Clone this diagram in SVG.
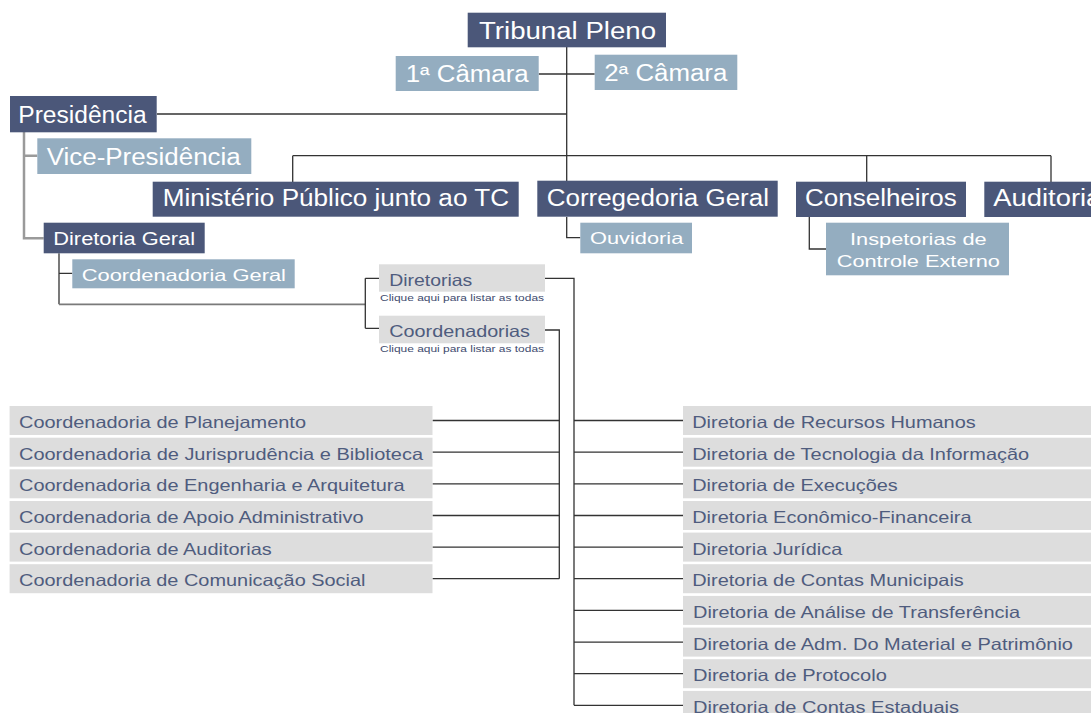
<svg xmlns="http://www.w3.org/2000/svg" width="1091" height="713" viewBox="0 0 1091 713">
<style>
text{font-family:"Liberation Sans",Arial,sans-serif}
.dk{fill:#4b5779}
.lt{fill:#94adc0}
.gr{fill:#dddddd}
.tw{fill:#ffffff}
.big{font-size:23px}
.mid{font-size:18px}
.sm{font-size:16.5px}
.tl{fill:#4f5c7e;font-size:16.5px}
.sub{fill:#3e4a6e;font-size:8.8px}
.ln{stroke:#333;stroke-width:1.3;fill:none}
.lg{stroke:#9a9a9a;stroke-width:2.5;fill:none}
.lm{stroke:#7a7a7a;stroke-width:1.8;fill:none}
</style>
<rect width="1091" height="713" fill="#ffffff"/>
<g id="connectors">
<path class="ln" d="M566.7 47V181M538.7 74H594.7M157 114H566.7M292.7 155.7H1051M292.7 155.7V182M866.7 155.7V182M1051 155.7V183M566.7 217V237.7H580.3M809.3 217V249H826"/>
<path class="lg" d="M24 132V238.3H43.7M24 155.7H37.3"/>
<path class="ln" d="M59 253.3V304.3M59 273.3H72.3"/>
<path class="lm" d="M59 304.3H365.3"/>
<path class="ln" d="M365.3 278.3V328.3M365.3 278.3H379M365.3 328.3H379"/>
<path class="ln" d="M545 278.3H574V705.3M545 330H559.3V578.7"/>
<path class="ln" d="M432.5 420.5H559.3M432.5 452.2H559.3M432.5 483.8H559.3M432.5 515.5H559.3M432.5 547.1H559.3M432.5 578.7H559.3"/>
<path class="ln" d="M574 420.5H683M574 452.2H683M574 483.8H683M574 515.5H683M574 547.1H683M574 578.7H683M574 610.4H683M574 642.1H683M574 673.7H683M574 705.3H683"/>
</g>
<g id="tribunal-pleno"><rect class="dk" x="467.7" y="12.7" width="198.3" height="34.6"/><text class="tw big" x="479" y="39" textLength="177" lengthAdjust="spacingAndGlyphs">Tribunal Pleno</text></g>
<g id="camara1"><rect class="lt" x="395.7" y="56" width="143" height="35"/><text class="tw big" x="405.7" y="82" textLength="123" lengthAdjust="spacingAndGlyphs">1ª Câmara</text></g>
<g id="camara2"><rect class="lt" x="594.7" y="54.7" width="142.6" height="35.3"/><text class="tw big" x="604.3" y="81" textLength="123" lengthAdjust="spacingAndGlyphs">2ª Câmara</text></g>
<g id="presidencia"><rect class="dk" x="10" y="96" width="146.7" height="36.3"/><text class="tw big" x="18.3" y="122.7" textLength="128.4" lengthAdjust="spacingAndGlyphs">Presidência</text></g>
<g id="vice-presidencia"><rect class="lt" x="37.3" y="138.3" width="214" height="35.7"/><text class="tw big" x="46.7" y="165" textLength="194" lengthAdjust="spacingAndGlyphs">Vice-Presidência</text></g>
<g id="ministerio-publico"><rect class="dk" x="152.7" y="181.7" width="366" height="35"/><text class="tw big" x="162.7" y="206" textLength="346.3" lengthAdjust="spacingAndGlyphs">Ministério Público junto ao TC</text></g>
<g id="corregedoria-geral"><rect class="dk" x="537.3" y="180.7" width="240.4" height="36"/><text class="tw big" x="546.7" y="206" textLength="222.3" lengthAdjust="spacingAndGlyphs">Corregedoria Geral</text></g>
<g id="conselheiros"><rect class="dk" x="796" y="181.7" width="170" height="35.3"/><text class="tw big" x="805" y="206" textLength="151.7" lengthAdjust="spacingAndGlyphs">Conselheiros</text></g>
<g id="auditoria"><rect class="dk" x="984.3" y="181.7" width="120" height="35.3"/><text class="tw big" x="993.3" y="206" textLength="108" lengthAdjust="spacingAndGlyphs">Auditoria</text></g>
<g id="ouvidoria"><rect class="lt" x="580.3" y="222.7" width="111.7" height="30.6"/><text class="tw sm" x="590" y="244" textLength="93.3" lengthAdjust="spacingAndGlyphs">Ouvidoria</text></g>
<g id="inspetorias"><rect class="lt" x="826" y="222.7" width="183" height="52.6"/><text class="tw sm" x="850" y="245" textLength="136.7" lengthAdjust="spacingAndGlyphs">Inspetorias de</text><text class="tw sm" x="836.7" y="267" textLength="163.3" lengthAdjust="spacingAndGlyphs">Controle Externo</text></g>
<g id="diretoria-geral"><rect class="dk" x="43.7" y="222.7" width="161" height="30.6"/><text class="tw mid" x="53.3" y="245" textLength="141.7" lengthAdjust="spacingAndGlyphs">Diretoria Geral</text></g>
<g id="coordenadoria-geral"><rect class="lt" x="72.3" y="259.3" width="222.4" height="29"/><text class="tw sm" x="81.7" y="280.7" textLength="204.3" lengthAdjust="spacingAndGlyphs">Coordenadoria Geral</text></g>
<g id="diretorias"><rect class="gr" x="379" y="264.3" width="166" height="27.4"/><text class="tl" x="389.3" y="286" textLength="83" lengthAdjust="spacingAndGlyphs">Diretorias</text><text class="sub" x="380" y="300.5" textLength="164" lengthAdjust="spacingAndGlyphs">Clique aqui para listar as todas</text></g>
<g id="coordenadorias"><rect class="gr" x="379" y="315.7" width="166" height="27.6"/><text class="tl" x="389.3" y="337" textLength="140.7" lengthAdjust="spacingAndGlyphs">Coordenadorias</text><text class="sub" x="380" y="352" textLength="164" lengthAdjust="spacingAndGlyphs">Clique aqui para listar as todas</text></g>
<g id="coord-planejamento"><rect class="gr" x="9.6" y="406" width="422.9" height="29"/><text class="tl" x="19" y="428" textLength="287" lengthAdjust="spacingAndGlyphs">Coordenadoria de Planejamento</text></g>
<g id="coord-jurisprudencia"><rect class="gr" x="9.6" y="437.7" width="422.9" height="29"/><text class="tl" x="19" y="459.7" textLength="404" lengthAdjust="spacingAndGlyphs">Coordenadoria de Jurisprudência e Biblioteca</text></g>
<g id="coord-engenharia"><rect class="gr" x="9.6" y="469.3" width="422.9" height="29"/><text class="tl" x="19" y="491.3" textLength="385.5" lengthAdjust="spacingAndGlyphs">Coordenadoria de Engenharia e Arquitetura</text></g>
<g id="coord-apoio"><rect class="gr" x="9.6" y="501" width="422.9" height="29"/><text class="tl" x="19" y="523" textLength="344.6" lengthAdjust="spacingAndGlyphs">Coordenadoria de Apoio Administrativo</text></g>
<g id="coord-auditorias"><rect class="gr" x="9.6" y="532.6" width="422.9" height="29"/><text class="tl" x="19" y="554.6" textLength="252.7" lengthAdjust="spacingAndGlyphs">Coordenadoria de Auditorias</text></g>
<g id="coord-comunicacao"><rect class="gr" x="9.6" y="564.2" width="422.9" height="29"/><text class="tl" x="19" y="586.2" textLength="346.5" lengthAdjust="spacingAndGlyphs">Coordenadoria de Comunicação Social</text></g>
<g id="dir-rh"><rect class="gr" x="683" y="406" width="408" height="29"/><text class="tl" x="692.2" y="428" textLength="283.5" lengthAdjust="spacingAndGlyphs">Diretoria de Recursos Humanos</text></g>
<g id="dir-ti"><rect class="gr" x="683" y="437.7" width="408" height="29"/><text class="tl" x="692.2" y="459.7" textLength="337" lengthAdjust="spacingAndGlyphs">Diretoria de Tecnologia da Informação</text></g>
<g id="dir-execucoes"><rect class="gr" x="683" y="469.3" width="408" height="29"/><text class="tl" x="692.2" y="491.3" textLength="205.6" lengthAdjust="spacingAndGlyphs">Diretoria de Execuções</text></g>
<g id="dir-economico"><rect class="gr" x="683" y="501" width="408" height="29"/><text class="tl" x="692.2" y="523" textLength="279.4" lengthAdjust="spacingAndGlyphs">Diretoria Econômico-Financeira</text></g>
<g id="dir-juridica"><rect class="gr" x="683" y="532.6" width="408" height="29"/><text class="tl" x="692.2" y="554.6" textLength="150" lengthAdjust="spacingAndGlyphs">Diretoria Jurídica</text></g>
<g id="dir-municipais"><rect class="gr" x="683" y="564.2" width="408" height="29"/><text class="tl" x="692.2" y="586.2" textLength="271.6" lengthAdjust="spacingAndGlyphs">Diretoria de Contas Municipais</text></g>
<g id="dir-transferencia"><rect class="gr" x="683" y="595.9" width="408" height="29"/><text class="tl" x="693" y="617.9" textLength="327" lengthAdjust="spacingAndGlyphs">Diretoria de Análise de Transferência</text></g>
<g id="dir-material"><rect class="gr" x="683" y="627.6" width="408" height="29"/><text class="tl" x="693" y="649.6" textLength="380" lengthAdjust="spacingAndGlyphs">Diretoria de Adm. Do Material e Patrimônio</text></g>
<g id="dir-protocolo"><rect class="gr" x="683" y="659.2" width="408" height="29"/><text class="tl" x="693" y="681.2" textLength="193.8" lengthAdjust="spacingAndGlyphs">Diretoria de Protocolo</text></g>
<g id="dir-estaduais"><rect class="gr" x="683" y="690.9" width="408" height="29"/><text class="tl" x="693" y="712.6" textLength="266" lengthAdjust="spacingAndGlyphs">Diretoria de Contas Estaduais</text></g>
</svg>
